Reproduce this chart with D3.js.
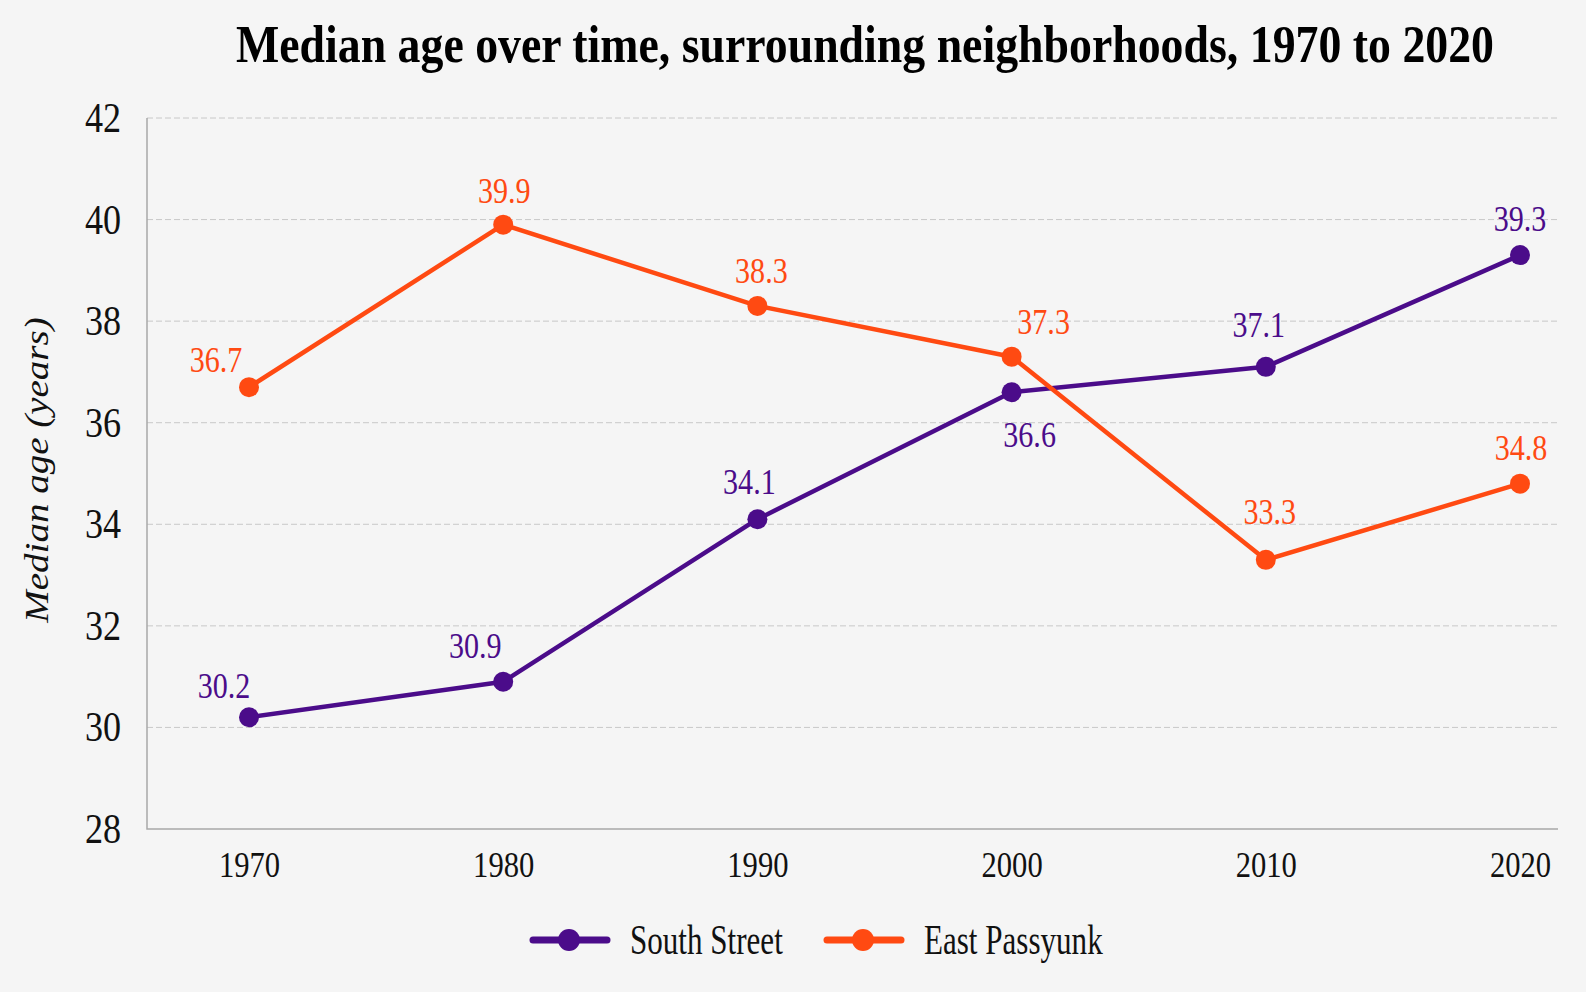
<!DOCTYPE html>
<html>
<head>
<meta charset="utf-8">
<script src="https://cdn.jsdelivr.net/npm/d3@7"></script>
<style>
  body { margin: 0; background: #f5f5f5; }
  svg { display: block; font-family: "Liberation Serif", "Times New Roman", serif; }
</style>
</head>
<body>
<svg id="chart"></svg>
<script>
// chart data
const years = [1970, 1980, 1990, 2000, 2010, 2020];
const southStreet = [30.2, 30.9, 34.1, 36.6, 37.1, 39.3];
const eastPassyunk = [36.7, 39.9, 38.3, 37.3, 33.3, 34.8];
const yTicks = [28, 30, 32, 34, 36, 38, 40, 42];

const width = 1586;
const height = 992;
const margin = { top: 118, right: 28, bottom: 163, left: 147 };

const series = [
  { name: "South Street", values: southStreet, color: "#4b0c8a",
    // label offsets from the point (text centre), px
    offsets: [[-25, -31], [-28, -36], [-8, -37], [18, 43], [-7, -42], [0, -36]] },
  { name: "East Passyunk", values: eastPassyunk, color: "#ff4a12",
    offsets: [[-33, -27], [1, -33], [4, -35], [32, -34], [4, -48], [1, -35]] }
];

// the source type is set narrow, so text is squeezed horizontally
function squeeze(sel, sx) {
  sel.each(function() {
    var t = d3.select(this);
    var tx = +t.attr("x") || 0, ty = +t.attr("y") || 0;
    t.attr("x", 0).attr("y", 0)
      .attr("transform", `translate(${tx},${ty}) scale(${sx},1)`);
  });
}

const svg = d3.select("#chart")
  .attr("width", width)
  .attr("height", height);

svg.append("rect")
  .attr("width", width)
  .attr("height", height)
  .attr("fill", "#f5f5f5");

var x = d3.scalePoint()
  .domain(years)
  .range([249, 1520]);

var y = d3.scaleLinear()
  .domain([28, 42])
  .range([height - margin.bottom, margin.top]);

// grid
svg.append("g")
  .selectAll("line")
  .data(yTicks.filter(d => d > 28))
  .join("line")
  .attr("x1", margin.left)
  .attr("x2", width - margin.right)
  .attr("y1", d => y(d))
  .attr("y2", d => y(d))
  .attr("stroke", "#c8c8c8")
  .attr("stroke-width", 1)
  .attr("stroke-dasharray", "6,3");

// axes
var yAxis = svg.append("g")
  .attr("transform", "translate(" + margin.left + ",0)")
  .call(d3.axisLeft(y).tickValues(yTicks).tickSize(0).tickPadding(26));
yAxis.select(".domain").remove();
yAxis.selectAll("text")
  .attr("font-family", "Liberation Serif")
  .attr("font-size", 42)
  .attr("fill", "#111")
  .call(squeeze, 0.86);

var xAxis = svg.append("g")
  .attr("transform", "translate(0," + (height - margin.bottom) + ")")
  .call(d3.axisBottom(x).tickSize(0).tickPadding(22));
xAxis.select(".domain").remove();
xAxis.selectAll("text")
  .attr("font-family", "Liberation Serif")
  .attr("font-size", 36)
  .attr("fill", "#111")
  .call(squeeze, 0.85);

svg.append("path")
  .attr("d", `M${margin.left},${margin.top}V${height - margin.bottom}H${width - margin.right}`)
  .attr("fill", "none")
  .attr("stroke", "#a8a8a8")
  .attr("stroke-width", 1.5);

// lines, points, labels
var line = d3.line()
  .x((d, i) => x(years[i]))
  .y(d => y(d));

series.forEach(s => {
  var g = svg.append("g");
  g.append("path")
    .datum(s.values)
    .attr("d", line)
    .attr("fill", "none")
    .attr("stroke", s.color)
    .attr("stroke-width", 4.5)
    .attr("stroke-linejoin", "round");

  g.selectAll("circle")
    .data(s.values)
    .join("circle")
    .attr("cx", (d, i) => x(years[i]))
    .attr("cy", d => y(d))
    .attr("r", 10)
    .attr("fill", s.color);

  g.selectAll("text")
    .data(s.values)
    .join("text")
    .attr("x", (d, i) => x(years[i]) + s.offsets[i][0])
    .attr("y", (d, i) => y(d) + s.offsets[i][1])
    .attr("text-anchor", "middle")
    .attr("dominant-baseline", "central")
    .attr("font-size", 35)
    .attr("fill", s.color)
    .text(d => d.toFixed(1))
    .call(squeeze, 0.86);
});

// title, fitted to the source width
var title = svg.append("text")
  .attr("x", 865)
  .attr("y", 62)
  .attr("text-anchor", "middle")
  .attr("font-size", 52)
  .attr("font-weight", "bold")
  .attr("fill", "#000")
  .text("Median age over time, surrounding neighborhoods, 1970 to 2020");
title.call(squeeze, 1258 / title.node().getComputedTextLength());

// y-axis title (squeezed across its height, since it is rotated)
svg.append("text")
  .attr("transform", "translate(37,470) rotate(-90) scale(1,0.85)")
  .attr("text-anchor", "middle")
  .attr("dominant-baseline", "central")
  .attr("font-size", 39)
  .attr("font-style", "italic")
  .attr("fill", "#111")
  .text("Median age (years)");

// legend
var legend = svg.append("g")
  .selectAll("g")
  .data(series)
  .join("g")
  .attr("transform", (d, i) => "translate(" + [533, 827][i] + ",940)");

legend.append("line")
  .attr("x1", 0)
  .attr("x2", 74)
  .attr("stroke", d => d.color)
  .attr("stroke-width", 7)
  .attr("stroke-linecap", "round");

legend.append("circle")
  .attr("cx", 36)
  .attr("r", 11)
  .attr("fill", d => d.color);

legend.append("text")
  .attr("x", 97)
  .attr("dominant-baseline", "central")
  .attr("font-size", 42)
  .attr("fill", "#111")
  .text(d => d.name)
  .call(squeeze, 0.74);
</script>
</body>
</html>
